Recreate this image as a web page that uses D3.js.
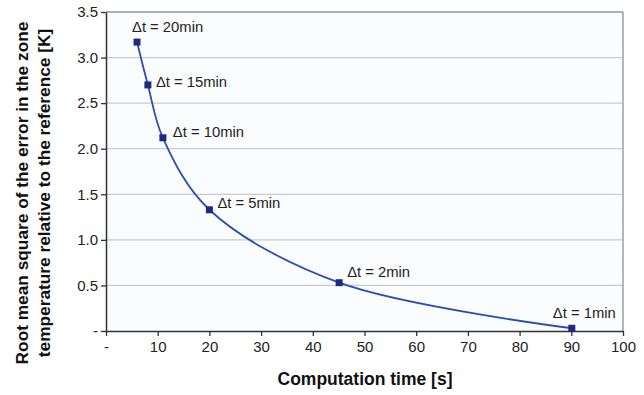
<!DOCTYPE html>
<html>
<head>
<meta charset="utf-8">
<script src="https://cdn.jsdelivr.net/npm/d3@7"></script>
<style>
  body { margin: 0; background: #fff; }
  text { font-family: "Liberation Sans", Arial, sans-serif; }
</style>
</head>
<body>
<div id="chart-div"></div>
<script>
var times = [6.0, 8.1, 11.0, 20.0, 45.1, 90.1];
var errors = [3.17, 2.70, 2.12, 1.33, 0.53, 0.03];
var labels = ["\u0394t = 20min", "\u0394t = 15min", "\u0394t = 10min", "\u0394t = 5min", "\u0394t = 2min", "\u0394t = 1min"];
var x_ticks = [0, 10, 20, 30, 40, 50, 60, 70, 80, 90, 100];
var y_ticks = [0, 0.5, 1.0, 1.5, 2.0, 2.5, 3.0, 3.5];
// label offsets relative to marker (dx, dy)
var label_dx = [-5, 8, 10, 8, 8, -19];
var label_dy = [-15, -3, -6, -7, -11, -15];

var w = 644, h = 395;
var margin = {left: 106, right: 21, top: 12, bottom: 64};

var svg = d3.select("#chart-div").append("svg")
    .attr("width", w)
    .attr("height", h);

var x = d3.scaleLinear().domain([0, 100]).range([margin.left, w - margin.right]);
var y = d3.scaleLinear().domain([0, 3.5]).range([h - margin.bottom, margin.top]);

// plot background
svg.append("rect")
    .attr("x", x(0)).attr("y", y(3.5))
    .attr("width", x(100) - x(0)).attr("height", y(0) - y(3.5))
    .attr("fill", "#fbfcfd");

// gridlines
svg.append("g").selectAll("line")
    .data(y_ticks.filter(function (d) { return d > 0; }))
    .enter().append("line")
    .attr("x1", x(0)).attr("x2", x(100))
    .attr("y1", function (d) { return y(d); })
    .attr("y2", function (d) { return y(d); })
    .attr("stroke", "#c8cccf")
    .attr("stroke-width", 1.2);

// right + top border
svg.append("line")
    .attr("x1", x(100)).attr("x2", x(100))
    .attr("y1", y(3.5)).attr("y2", y(0))
    .attr("stroke", "#9aa0a3").attr("stroke-width", 1.5);
svg.append("line")
    .attr("x1", x(0)).attr("x2", x(100))
    .attr("y1", y(3.5)).attr("y2", y(3.5))
    .attr("stroke", "#9aa0a3").attr("stroke-width", 1.5);

var fmt = function (d) { return d === 0 ? "-" : d3.format(".1f")(d); };

var y_axis = svg.append("g")
    .attr("transform", "translate(" + x(0) + ",0)")
    .call(d3.axisLeft(y).tickValues(y_ticks).tickFormat(fmt).tickSize(5).tickSizeOuter(0));
var x_axis = svg.append("g")
    .attr("transform", "translate(0," + y(0) + ")")
    .call(d3.axisBottom(x).tickValues(x_ticks).tickFormat(function (d) { return d === 0 ? "-" : d; }).tickSize(5).tickSizeOuter(0));

[y_axis, x_axis].forEach(function (a) {
    a.select(".domain").attr("stroke", "#333").attr("stroke-width", 1.5);
    a.selectAll(".tick line").attr("stroke", "#333").attr("stroke-width", 1.3);
    a.selectAll(".tick text").attr("font-size", 15).attr("fill", "#222")
        .style("font-family", "'Liberation Sans', Arial, sans-serif");
});
y_axis.selectAll(".tick text").attr("x", -8);
x_axis.selectAll(".tick text").attr("y", 10);

// curve
var pts = times.map(function (t, i) { return [t, errors[i]]; });
var line = d3.line()
    .x(function (d) { return x(d[0]); })
    .y(function (d) { return y(d[1]); })
    .curve(d3.curveCatmullRom.alpha(0.5));
svg.append("path")
    .datum(pts)
    .attr("d", line)
    .attr("fill", "none")
    .attr("stroke", "#2b4fb0")
    .attr("stroke-width", 1.8);

// markers
svg.append("g").selectAll("rect")
    .data(pts)
    .enter().append("rect")
    .attr("x", function (d) { return x(d[0]) - 3.5; })
    .attr("y", function (d) { return y(d[1]) - 3.5; })
    .attr("width", 7).attr("height", 7)
    .attr("fill", "#1f2a7c");

// point labels
svg.append("g").selectAll("text")
    .data(pts)
    .enter().append("text")
    .attr("x", function (d, i) { return x(d[0]) + label_dx[i]; })
    .attr("y", function (d, i) { return y(d[1]) + label_dy[i]; })
    .attr("dy", "0.35em")
    .attr("font-size", 14.8)
    .attr("fill", "#222")
    .text(function (d, i) { return labels[i]; });

// axis titles
svg.append("text")
    .attr("x", 365)
    .attr("y", 385)
    .attr("text-anchor", "middle")
    .attr("font-size", 17.5)
    .attr("font-weight", "bold")
    .attr("fill", "#111")
    .text("Computation time [s]");

var ytitle = svg.append("text")
    .attr("transform", "translate(28,193) rotate(-90)")
    .attr("text-anchor", "middle")
    .attr("font-size", 17.3)
    .attr("font-weight", "bold")
    .attr("fill", "#111");
ytitle.append("tspan").attr("x", 0).attr("dy", 0).text("Root mean square of the error in the zone");
ytitle.append("tspan").attr("x", 0).attr("dy", 22).text("temperature relative to the reference [K]");
</script>
</body>
</html>
